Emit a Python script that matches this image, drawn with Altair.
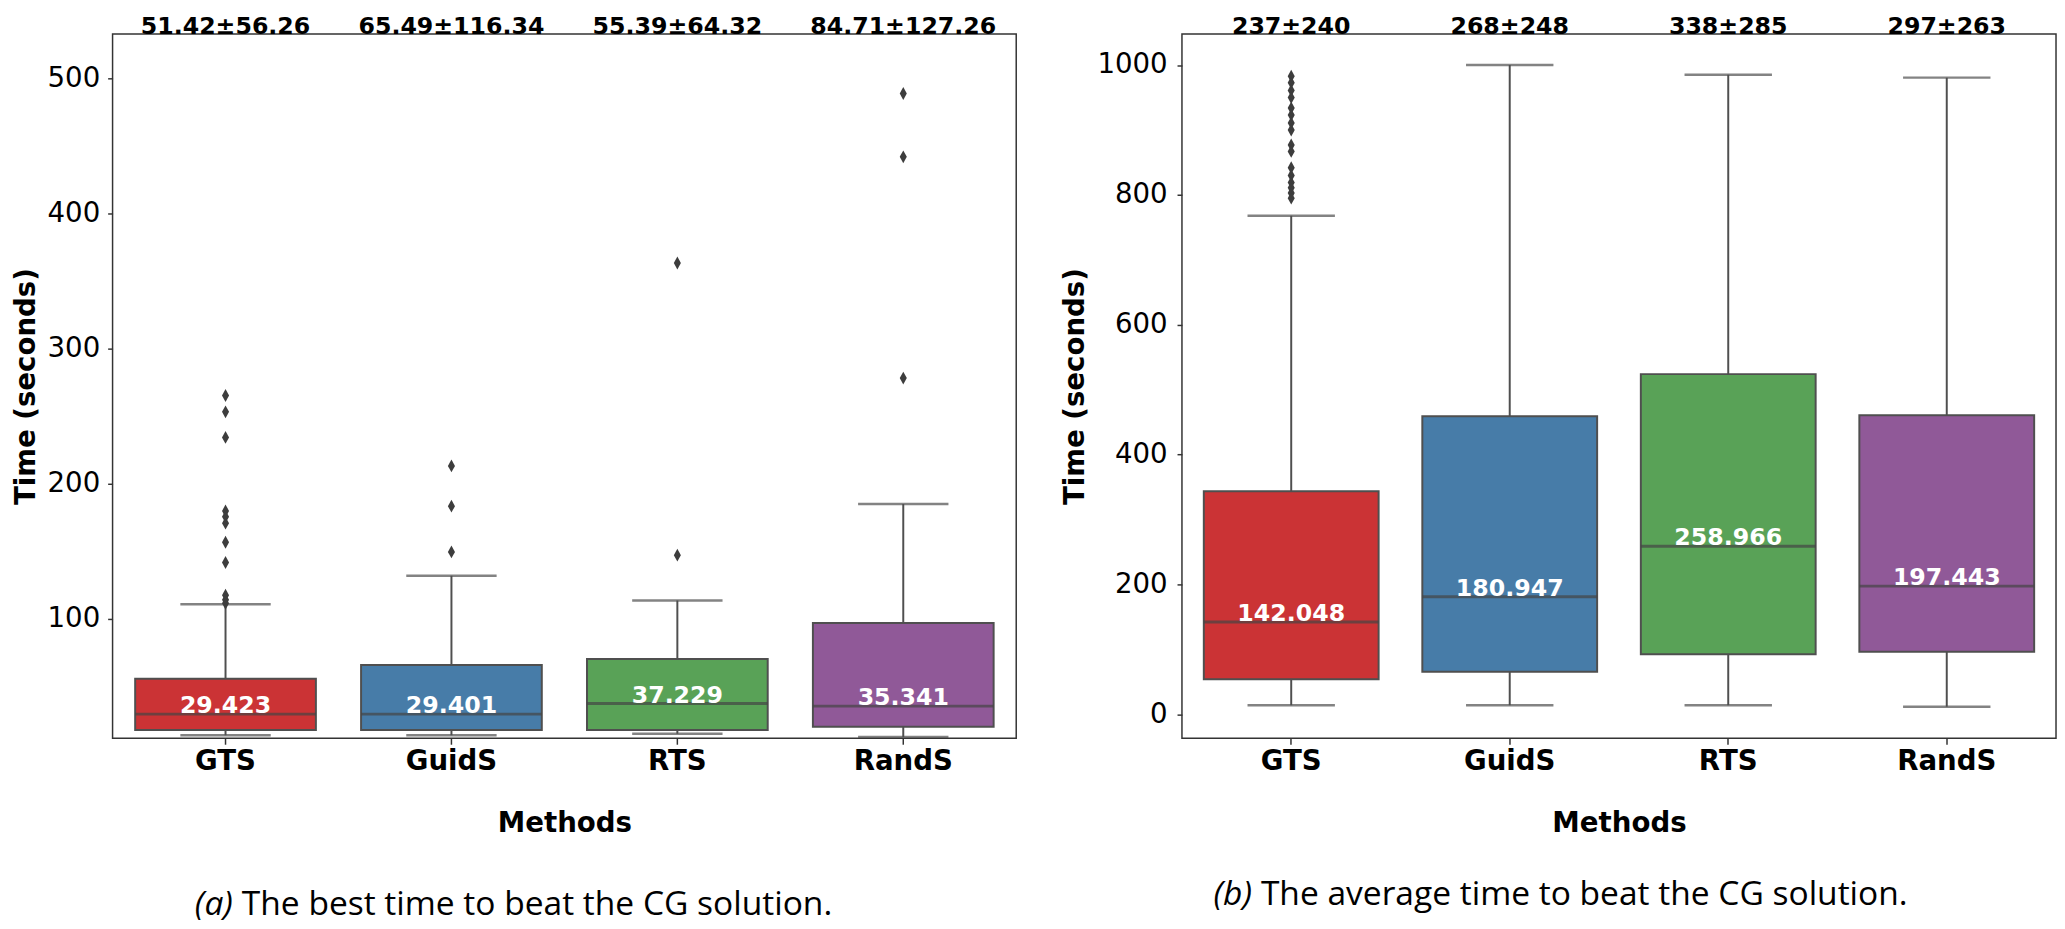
import altair as alt
import pandas as pd

methods = ["GTS", "GuidS", "RTS", "RandS"]
colors = ["#cb3335", "#477ca8", "#59a257", "#905998"]

# (a) best time
best_low = [13.7, 13.7, 14.9, 12.5]
best_q1 = [17.6, 17.6, 17.6, 20.0]
best_median = [29.423, 29.401, 37.229, 35.341]
best_q3 = [55.6, 65.8, 70.2, 96.9]
best_high = [110.7, 131.8, 113.6, 184.9]
best_top = ["51.42±56.26", "65.49±116.34", "55.39±64.32", "84.71±127.26"]
best_out_gts = [265.3, 253.2, 234.3, 179.8, 175.6, 170.8, 156.7, 141.7, 117.5, 114.0, 111.5]
best_out_guids = [213.2, 183.4, 149.5]
best_out_rts = [363.4, 147.1]
best_out_rands = [488.9, 442.0, 278.2]
best_ticks = [100, 200, 300, 400, 500]

# (b) average time
avg_low = [13.9, 13.9, 13.9, 11.6]
avg_q1 = [54.0, 65.5, 92.4, 96.3]
avg_median = [142.048, 180.947, 258.966, 197.443]
avg_q3 = [343.6, 459.0, 524.0, 460.7]
avg_high = [768.0, 1000.0, 985.0, 980.7]
avg_top = ["237±240", "268±248", "338±285", "297±263"]
avg_out_gts = [983, 973, 961, 950, 934, 923, 911, 900, 877, 867, 842, 830, 819, 811, 803, 795]
avg_ticks = [0, 200, 400, 600, 800, 1000]

cap_a = ["(a)", "The best time to beat the CG solution."]
cap_b = ["(b)", "The average time to beat the CG solution."]

FONT = "DejaVu Sans"
EDGE = "#4f4f4f"
DIAMOND = "M0,-1L0.55,0L0,1L-0.55,0Z"
CAP_FS = 34


def panel(low, q1, med, q3, high, top, outliers, domain, ticks, W, H,
          lab_pad, title_pad, cap, cap_x, cap_y):
    stats = pd.DataFrame({
        "method": methods, "low": low, "q1": q1, "median": med,
        "q3": q3, "high": high, "top": top,
        "mlabel": [f"{m:.3f}" for m in med],
    })
    rows = []
    for m, vals in zip(methods, outliers):
        rows += [{"method": m, "value": v} for v in vals]
    outs = pd.DataFrame(rows)

    step = W / 4.0
    xs = alt.X("method:N", sort=methods,
               scale=alt.Scale(domain=methods, paddingInner=0.2, paddingOuter=0.1),
               axis=alt.Axis(title="Methods", labelAngle=0, labelFontWeight="bold",
                             labelFontSize=28, labelPadding=4, tickSize=6,
                             titlePadding=34))
    yscale = alt.Scale(domain=domain, nice=False, zero=False)
    yaxis = alt.Axis(title="Time (seconds)", values=ticks, format="d", tickSize=5,
                     labelPadding=lab_pad, titlePadding=title_pad)

    base = alt.Chart(stats)
    whisk = base.mark_rule(color=EDGE, strokeWidth=2, clip=True).encode(
        x=xs, y=alt.Y("low:Q", scale=yscale, axis=yaxis), y2="high:Q")
    box = base.mark_bar(stroke=EDGE, strokeWidth=2, clip=True).encode(
        x=xs, y=alt.Y("q1:Q", scale=yscale, axis=yaxis), y2="q3:Q",
        color=alt.Color("method:N", scale=alt.Scale(domain=methods, range=colors),
                        legend=None))
    caps_lo = base.mark_tick(orient="horizontal", color=EDGE, size=step * 0.4,
                             thickness=2.5, clip=True).encode(
        x=xs, y=alt.Y("low:Q", scale=yscale, axis=yaxis))
    caps_hi = base.mark_tick(orient="horizontal", color=EDGE, size=step * 0.4,
                             thickness=2.5, clip=True).encode(
        x=xs, y=alt.Y("high:Q", scale=yscale, axis=yaxis))
    medl = base.mark_tick(orient="horizontal", color="#444444", size=step * 0.8,
                          thickness=3).encode(
        x=xs, y=alt.Y("median:Q", scale=yscale, axis=yaxis))
    pts = alt.Chart(outs).mark_point(shape=DIAMOND, filled=True, color="#3d3d3d",
                                     opacity=1, size=170).encode(
        x=xs, y=alt.Y("value:Q", scale=yscale, axis=yaxis))
    mtext = base.mark_text(color="white", fontWeight="bold", fontSize=24,
                           font=FONT, baseline="alphabetic", dy=-1).encode(
        x=xs, y=alt.Y("median:Q", scale=yscale, axis=yaxis), text="mlabel:N")
    ttext = base.mark_text(color="black", fontWeight="bold", fontSize=24,
                           font=FONT, baseline="alphabetic", dy=0).encode(
        x=xs, y=alt.value(0), text="top:N")

    capdf = pd.DataFrame({"a": [cap[0]], "b": [cap[1]]})
    c1 = alt.Chart(capdf).mark_text(font="Open Sans", fontSize=CAP_FS, fontStyle="italic",
                                    align="right", baseline="alphabetic",
                                    color="black").encode(
        x=alt.value(cap_x - 9), y=alt.value(cap_y), text="a:N")
    c2 = alt.Chart(capdf).mark_text(font="Open Sans", fontSize=CAP_FS, align="left",
                                    baseline="alphabetic", color="black").encode(
        x=alt.value(cap_x), y=alt.value(cap_y), text="b:N")

    return alt.layer(whisk, box, medl, caps_lo, caps_hi, pts, mtext, ttext, c1, c2
                     ).properties(width=W, height=H)


left = panel(best_low, best_q1, best_median, best_q3, best_high, best_top,
             [best_out_gts, best_out_guids, best_out_rts, best_out_rands],
             [11.5, 533], best_ticks, 916, 714, 8, 7, cap_a, 131, 893)
right = panel(avg_low, avg_q1, avg_median, avg_q3, avg_high, avg_top,
              [avg_out_gts, [], [], []],
              [-37, 1048], avg_ticks, 886, 714, 10, 8, cap_b, 80, 883)

chart = alt.hconcat(left, right, spacing=43).properties(
    padding={"left": 3, "top": 0, "right": 0, "bottom": 0}
).configure_view(
    stroke="#333333", strokeWidth=1.5
).configure_axis(
    labelFont=FONT, labelFontSize=28, labelColor="black",
    titleFont=FONT, titleFontSize=28, titleFontWeight="bold", titleColor="black",
    tickColor="#333333", tickWidth=1.5, domain=False, grid=False
)

chart.save("out.html", embed_options={"renderer": "svg", "actions": False})
